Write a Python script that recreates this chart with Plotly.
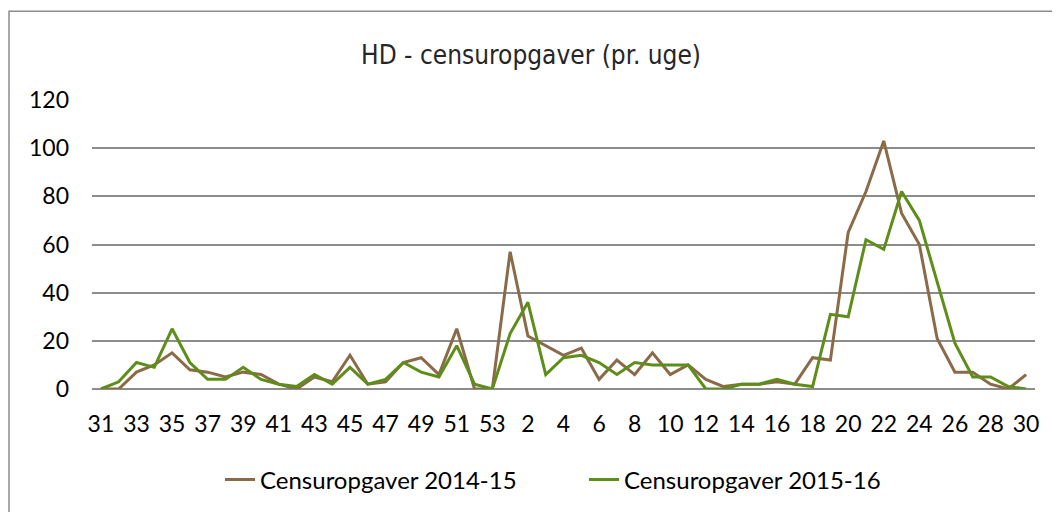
import plotly.graph_objects as go

weeks = [str(w) for w in list(range(31, 54)) + list(range(1, 31))]
s2014 = [0, 0, 7, 10, 15, 8, 7, 5, 7, 6, 2, 0, 5, 3, 14, 2, 3, 11, 13, 6, 25, 0, 0,
         57, 22, 18, 14, 17, 4, 12, 6, 15, 6, 10, 4, 1, 2, 2, 3, 2, 13, 12, 65, 82,
         103, 73, 60, 21, 7, 7, 2, 0, 6]
s2015 = [0, 3, 11, 9, 25, 11, 4, 4, 9, 4, 2, 1, 6, 2, 9, 2, 4, 11, 7, 5, 18, 2, 0,
         23, 36, 6, 13, 14, 11, 6, 11, 10, 10, 10, 0, 0, 2, 2, 4, 2, 1, 31, 30, 62,
         58, 82, 70, 44, 19, 5, 5, 1, 0]
names = ["Censuropgaver 2014-15", "Censuropgaver 2015-16"]
yticks = [0, 20, 40, 60, 80, 100, 120]

W, H = 1052, 504  # page body has an 8px margin

fig = go.Figure()
fig.add_trace(go.Scatter(x=weeks, y=s2014, mode="lines", name=names[0],
                         line=dict(color="#8B6A48", width=3)))
fig.add_trace(go.Scatter(x=weeks, y=s2015, mode="lines", name=names[1],
                         line=dict(color="#5E8E1A", width=3)))

font_main = "Lato, 'Noto Sans', sans-serif"
fig.update_layout(
    width=W, height=H,
    margin=dict(l=84, r=25, t=92, b=122.5),
    paper_bgcolor="white", plot_bgcolor="white",
    title=dict(text="HD - censuropgaver (pr. uge)", x=523 / W, xref="container",
               y=1 - 47 / H, yref="container", xanchor="center", yanchor="middle",
               font=dict(family="'Liberation Sans Narrow', 'DejaVu Sans Condensed', sans-serif",
                         size=26, color="#262626")),
    showlegend=True,
    legend=dict(orientation="h", x=212 / W, xref="container", xanchor="left",
                y=1 - 472 / H, yref="container", yanchor="middle",
                font=dict(family=font_main, size=24, color="#000000"),
                entrywidth=319, entrywidthmode="pixels", traceorder="normal"),
    xaxis=dict(type="category", categoryorder="array", categoryarray=weeks,
               range=[-0.5, len(weeks) - 0.5],
               tickmode="array", tickvals=weeks[::2], ticktext=weeks[::2],
               showgrid=False, zeroline=False, showline=False, ticks="",
               tickfont=dict(family=font_main, size=23, color="#000000"),
               ticklabelstandoff=19),
    yaxis=dict(range=[0, 120], tickmode="array", tickvals=yticks,
               showgrid=True, gridcolor="#8C8C8C", gridwidth=1.5,
               zeroline=True, zerolinecolor="#8C8C8C", zerolinewidth=1.5,
               showline=False, ticks="",
               tickfont=dict(family=font_main, size=23, color="#000000"),
               ticklabelstandoff=22),
    shapes=[dict(type="rect", xref="paper", yref="paper",
                 x0=(9 - 92) / 943, x1=(1075 - 92) / 943,
                 y0=(389.5 - 530) / 289.5, y1=(389.5 - 11) / 289.5,
                 line=dict(color="#8C8C8C", width=1.5), fillcolor="rgba(0,0,0,0)",
                 layer="below")],
)

fig.write_html("out.html")
